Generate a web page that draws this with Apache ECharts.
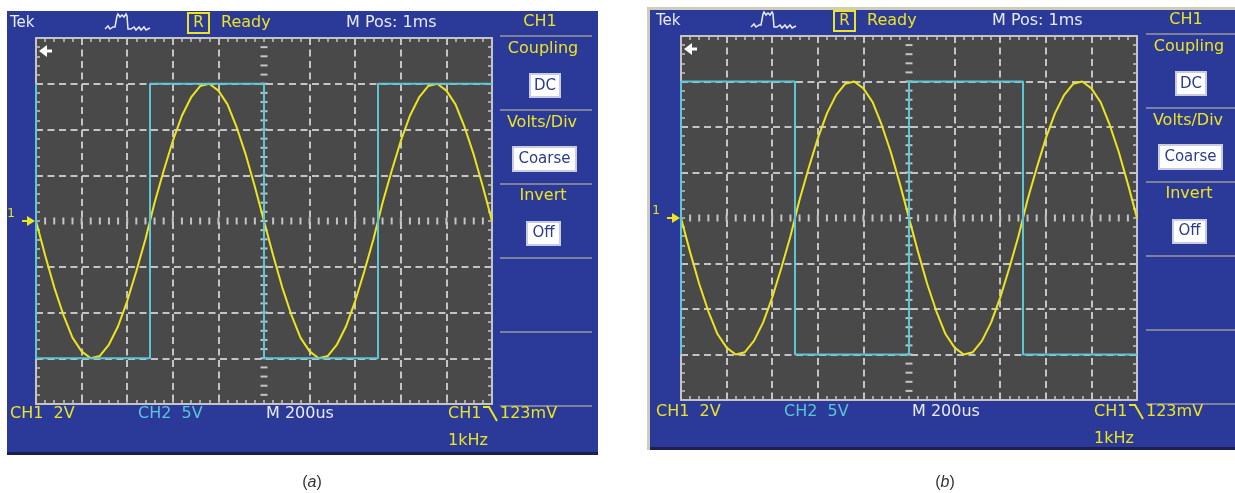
<!DOCTYPE html>
<html><head><meta charset="utf-8">
<script src="https://cdn.jsdelivr.net/npm/echarts@6/dist/echarts.min.js"></script>
<style>html,body{margin:0;padding:0;background:#fff}#c{width:1235px;height:493px}</style>
</head><body><div id="c"></div>
<script>
// ---- data (read from the two scope screens) ----
// time axis in microseconds, 200 us/div, 10 div
const timeUs = [0,40,80,120,160,200,240,280,320,360,400,440,480,520,560,600,640,680,720,760,800,840,880,920,960,1000,
  1040,1080,1120,1160,1200,1240,1280,1320,1360,1400,1440,1480,1520,1560,1600,1640,1680,1720,1760,1800,1840,1880,1920,1960,2000];
// CH1 (sine), volts, 2 V/div
const ch1A = [0,-1.5,-2.9,-4.1,-5.1,-5.7,-6.0,-5.9,-5.4,-4.6,-3.5,-2.2,-0.8,0.8,2.2,3.5,4.6,5.4,5.9,6.0,5.7,5.1,4.1,2.9,1.5,0,
  -1.5,-2.9,-4.1,-5.1,-5.7,-6.0,-5.9,-5.4,-4.6,-3.5,-2.2,-0.8,0.8,2.2,3.5,4.6,5.4,5.9,6.0,5.7,5.1,4.1,2.9,1.5,0];
const ch1B = [0,-1.5,-2.9,-4.1,-5.1,-5.7,-6.0,-5.9,-5.4,-4.6,-3.5,-2.2,-0.8,0.8,2.2,3.5,4.6,5.4,5.9,6.0,5.7,5.1,4.1,2.9,1.5,0,
  -1.5,-2.9,-4.1,-5.1,-5.7,-6.0,-5.9,-5.4,-4.6,-3.5,-2.2,-0.8,0.8,2.2,3.5,4.6,5.4,5.9,6.0,5.7,5.1,4.1,2.9,1.5,0];
// CH2 (square), volts, 5 V/div
const ch2TimeUs = [0,0,500,500,1000,1000,1500,1500,2000];
const ch2A = [15,-15,-15,15,15,-15,-15,15,15];
const ch2B = [-15,15,15,-15,-15,15,15,-15,-15];
// scope screen texts
const headerTexts = ['Tek','R','Ready','M Pos: 1ms','CH1'];
const menuTexts = ['Coupling','DC','Volts/Div','Coarse','Invert','Off'];
const footerTexts = ['CH1  2V','CH2  5V','M 200us','CH1','123mV','1kHz'];
const captions = ['a','b'];

// ---- styling ----
const BLUE = '#2b3a98', SCREEN = '#494949', GRAT = '#c4c4c4';
const YEL = '#ece41e', CYAN = '#5cc6d6', WHITE = '#e8ebf5', BOXTXT = '#2b3a8f';
const FONT = 'DejaVu Sans';
const grids = [
  {left: 36, top: 38, width: 456, height: 366},
  {left: 681, top: 36, width: 456, height: 364}
];

const chart = echarts.init(document.getElementById('c'), null, {renderer: 'canvas'});

const xSplitColors = [GRAT,GRAT,GRAT,GRAT,GRAT,'rgba(0,0,0,0)',GRAT,GRAT,GRAT,GRAT,GRAT];
const ySplitColors = [GRAT,GRAT,GRAT,GRAT,'rgba(0,0,0,0)',GRAT,GRAT,GRAT,GRAT];

const xAxes = [], yAxes = [];
grids.forEach((g, gi) => {
  ['bottom','top'].forEach((pos, k) => {
    xAxes.push({
      gridIndex: gi, type: 'value', min: 0, max: 2000, interval: 200, position: pos,
      axisLine: {show: true, onZero: false, lineStyle: {color: GRAT, width: 2}},
      axisTick: {show: true, inside: true, length: 4, lineStyle: {color: GRAT, width: 1.5}},
      minorTick: {show: true, splitNumber: 5, length: 4, lineStyle: {color: GRAT, width: 1.5}},
      axisLabel: {show: false},
      splitLine: {show: k === 0, lineStyle: {color: xSplitColors, type: [7, 4.5], width: 2}}
    });
  });
  yAxes.push({
    gridIndex: gi, type: 'value', min: -8, max: 8, interval: 2, position: 'left',
    axisLine: {show: true, onZero: false, lineStyle: {color: GRAT, width: 2}},
    axisTick: {show: true, inside: true, length: 4, lineStyle: {color: GRAT, width: 1.5}},
    minorTick: {show: true, splitNumber: 5, length: 4, lineStyle: {color: GRAT, width: 1.5}},
    axisLabel: {show: false},
    splitLine: {show: true, lineStyle: {color: ySplitColors, type: [7, 4.5], width: 2}}
  });
  yAxes.push({
    gridIndex: gi, type: 'value', min: -20, max: 20, interval: 5, position: 'right',
    axisLine: {show: true, onZero: false, lineStyle: {color: GRAT, width: 2}},
    axisTick: {show: true, inside: true, length: 4, lineStyle: {color: GRAT, width: 1.5}},
    minorTick: {show: true, splitNumber: 5, length: 4, lineStyle: {color: GRAT, width: 1.5}},
    axisLabel: {show: false},
    splitLine: {show: false}
  });
});

// center graticule ticks (1/5 division)
const centerTicks = [];
for (let t = 40; t < 2000; t += 40) centerTicks.push([t, 0, 0]);
for (let v = -7.6; v < 7.7; v += 0.4) centerTicks.push([1000, Math.round(v * 10) / 10, 1]);

function graticuleSeries(gi) {
  return {
    type: 'custom', xAxisIndex: gi * 2, yAxisIndex: gi * 2, silent: true, z: 1,
    data: centerTicks,
    renderItem: (params, api) => {
      const p = api.coord([api.value(0), api.value(1)]);
      const vert = api.value(2) === 0;
      return {
        type: 'line',
        shape: vert ? {x1: p[0], y1: p[1] - 3.5, x2: p[0], y2: p[1] + 3.5}
                    : {x1: p[0] - 3.5, y1: p[1], x2: p[0] + 3.5, y2: p[1]},
        style: {stroke: GRAT, lineWidth: 2}
      };
    }
  };
}

const zip = (a, b) => a.map((v, i) => [v, b[i]]);
const series = [
  graticuleSeries(0), graticuleSeries(1),
  {type: 'line', xAxisIndex: 0, yAxisIndex: 0, data: zip(timeUs, ch1A), symbol: 'none', z: 3,
   lineStyle: {color: YEL, width: 2}},
  {type: 'line', xAxisIndex: 0, yAxisIndex: 1, data: zip(ch2TimeUs, ch2A), symbol: 'none', z: 4,
   lineStyle: {color: CYAN, width: 2}},
  {type: 'line', xAxisIndex: 2, yAxisIndex: 2, data: zip(timeUs, ch1B), symbol: 'none', z: 3,
   lineStyle: {color: YEL, width: 2}},
  {type: 'line', xAxisIndex: 2, yAxisIndex: 3, data: zip(ch2TimeUs, ch2B), symbol: 'none', z: 4,
   lineStyle: {color: CYAN, width: 2}}
];

// ---- screen decorations ----
const els = [];
function T(x, y, s, color, size, align, z) {
  els.push({type: 'text', x, y, z: z || 10, style: {text: s, fill: color, font: (size || 16) + 'px "' + FONT + '"',
    textAlign: align || 'left', textVerticalAlign: 'middle'}});
}
function R(x, y, w, h, fill, stroke, z) {
  els.push({type: 'rect', shape: {x, y, width: w, height: h}, z: z || 10,
    style: {fill: fill || 'none', stroke: stroke || 'none', lineWidth: 2}});
}
function L(x1, y1, x2, y2, color, w) {
  els.push({type: 'line', shape: {x1, y1, x2, y2}, z: 10, style: {stroke: color, lineWidth: w || 2}});
}
function PL(pts, color, w) {
  els.push({type: 'polyline', shape: {points: pts}, z: 10, style: {stroke: color, lineWidth: w || 1.5, fill: 'none'}});
}
function PG(pts, color) {
  els.push({type: 'polygon', shape: {points: pts}, z: 11, style: {fill: color}});
}

// panel backgrounds
R(7, 11, 591, 441, BLUE, null, -10);
R(7, 452, 591, 3, '#1c2050', null, -10);
R(647, 7, 588, 443, '#cfcdb8', null, -11);
R(650, 10, 585, 437, BLUE, null, -10);
R(650, 447, 585, 3, '#1c2050', null, -10);

function panel(dx, dy, gi) {
  const g = grids[gi];
  const cy = g.top + g.height / 2;
  // header
  T(10 + dx, 23 + dy, headerTexts[0], WHITE, 15);
  PL([[105+dx,29+dy],[108,26+dy],[110,29+dy],[113,27+dy],[115,27+dy],[117,16+dy],[118,14+dy],[120,17+dy],[122,15+dy],
      [124,17+dy],[126,14+dy],[127,16+dy],[128,29+dy],[131,29+dy],[134,27+dy],[136,30+dy],[139,27+dy],[141,30+dy],
      [144,27+dy],[146,30+dy],[150,28+dy]].map((p, i) => i === 0 ? p : [p[0] + dx, p[1]]), WHITE, 1.5);
  R(188 + dx, 13 + dy, 21, 20, 'none', YEL);
  T(198.5 + dx, 23 + dy, headerTexts[1], YEL, 15, 'center');
  T(221 + dx, 23 + dy, headerTexts[2], YEL, 16);
  T(346 + dx, 23 + dy, headerTexts[3], WHITE, 16);
  T(540 + dx, 22 + dy, headerTexts[4], YEL, 16, 'center');
  // menu column
  [36, 110, 184, 258, 332, 406].forEach(y => L(500 + dx, y + dy, 592 + dx, y + dy, '#7d819c', 2));
  T(543 + dx, 49 + dy, menuTexts[0], YEL, 16, 'center');
  R(530 + dx, 74 + dy, 30, 23, '#ffffff', '#c9cbe0');
  T(545 + dx, 86 + dy, menuTexts[1], BOXTXT, 15, 'center');
  T(542 + dx, 123 + dy, menuTexts[2], YEL, 16, 'center');
  R(513 + dx, 147 + dy, 63, 24, '#ffffff', '#c9cbe0');
  T(544.5 + dx, 159 + dy, menuTexts[3], BOXTXT, 15, 'center');
  T(543 + dx, 196 + dy, menuTexts[4], YEL, 16, 'center');
  R(527 + dx, 222 + dy, 33, 23, '#ffffff', '#c9cbe0');
  T(543.5 + dx, 233.5 + dy, menuTexts[5], BOXTXT, 15, 'center');
  // footer
  T(10 + dx, 414 + dy, footerTexts[0], YEL, 16);
  T(138 + dx, 414 + dy, footerTexts[1], CYAN, 16);
  T(266 + dx, 414 + dy, footerTexts[2], WHITE, 16);
  T(448 + dx, 414 + dy, footerTexts[3], YEL, 16);
  PL([[483 + dx, 407 + dy], [489 + dx, 407 + dy], [497 + dx, 421 + dy]], YEL, 2);
  T(500 + dx, 414 + dy, footerTexts[4], YEL, 16);
  T(448 + dx, 441 + dy, footerTexts[5], YEL, 16);
  // trigger / position markers
  const gl = g.left;
  PG([[gl - 1, cy], [gl - 9, cy - 5], [gl - 9, cy + 5]], YEL);
  L(gl - 14, cy, gl - 8, cy, YEL, 2);
  T(gl - 25, cy - 7, '1', YEL, 12, 'center');
  PG([[gl + 3, g.top + 13], [gl + 11, g.top + 7], [gl + 11, g.top + 19]], '#ffffff');
  L(gl + 10, g.top + 13, gl + 16, g.top + 13, '#ffffff', 3);
}
panel(0, 0, 0);
panel(646, -2, 1);

// captions
[[312, captions[0]], [945, captions[1]]].forEach(([x, s]) => {
  els.push({type: 'text', x, y: 483, z: 10, style: {
    text: '{p|(}{i|' + s + '}{p|)}', textAlign: 'center', textVerticalAlign: 'middle',
    rich: {p: {font: '16px "Liberation Sans"', fill: '#333'}, i: {font: 'italic 16px "Liberation Sans"', fill: '#333'}}
  }});
});

chart.setOption({
  backgroundColor: '#ffffff',
  animation: false,
  grid: grids.map(g => Object.assign({show: true, backgroundColor: SCREEN, borderWidth: 0}, g)),
  xAxis: xAxes,
  yAxis: yAxes,
  series: series,
  graphic: {elements: els}
});
</script>
</body></html>
